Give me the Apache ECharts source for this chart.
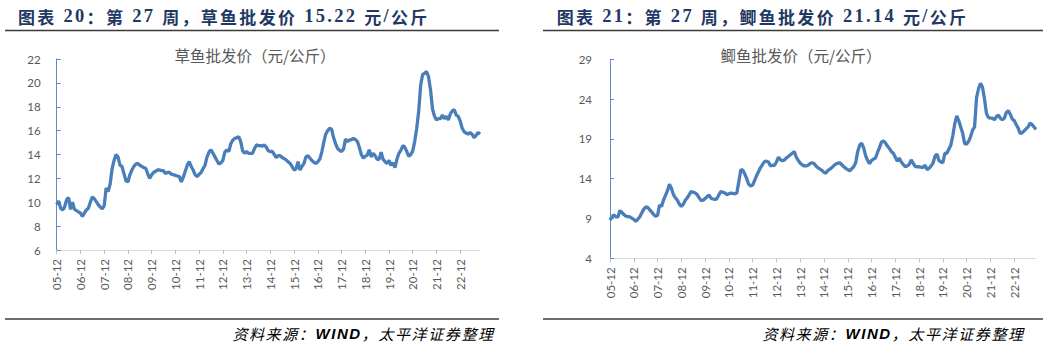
<!DOCTYPE html>
<html><head><meta charset="utf-8">
<script src="https://cdn.jsdelivr.net/npm/echarts@6/dist/echarts.min.js"></script>
<style>html,body{margin:0;padding:0;background:#fff}#c{width:1049px;height:356px}</style>
</head><body><div id="c"></div>
<script>
// ---- data (monthly readings, first point = 2005-12) ----
const tickLabels = ['05-12','06-12','07-12','08-12','09-12','10-12','11-12','12-12','13-12','14-12','15-12','16-12','17-12','18-12','19-12','20-12','21-12','22-12'];
const grassCarp = [
9.8,10.1,9.5,9.35,9.6,10.2,10.4,9.4,10.0,9.4,9.3,9.2,
9.1,8.8,9.1,9.35,9.5,10.0,10.45,10.3,10.05,9.8,9.6,9.45,
9.7,11.2,10.9,11.5,12.8,13.5,14.0,13.8,13.1,13.0,12.4,11.8,
11.7,12.3,12.7,13.0,13.2,13.25,13.1,13.0,12.9,12.85,12.4,12.0,
12.3,12.5,12.6,12.7,12.7,12.65,12.65,12.4,12.5,12.5,12.35,12.3,
12.25,12.2,12.15,11.7,12.1,12.6,13.1,13.4,13.0,12.7,12.3,12.15,
12.35,12.5,12.8,13.1,13.8,14.2,14.4,14.1,13.8,13.5,13.2,13.3,
13.5,14.2,14.4,14.25,14.9,15.2,15.35,15.4,15.5,15.1,14.3,14.1,
14.25,14.1,14.1,14.1,14.5,14.8,14.75,14.75,14.7,14.8,14.6,14.3,
14.25,14.25,14.0,13.75,13.9,13.9,13.75,13.65,13.55,13.4,13.25,13.0,
12.7,12.8,13.4,12.7,13.0,13.25,13.8,13.9,13.7,13.5,13.35,13.25,
13.4,13.6,14.2,15.0,15.7,16.0,16.2,16.1,15.4,14.9,14.5,14.35,
14.25,14.45,15.3,15.1,15.2,15.25,15.35,15.25,15.1,14.6,14.0,13.7,
13.85,13.95,14.4,13.8,14.1,13.9,13.6,13.6,14.2,13.6,13.4,13.25,
13.5,13.1,13.3,12.9,13.6,14.1,14.35,14.75,14.6,14.25,13.85,14.0,
14.3,15.1,16.2,17.6,19.8,20.7,20.8,20.95,20.5,19.4,17.8,17.2,
16.9,17.0,17.0,17.3,17.0,17.2,16.9,17.4,17.65,17.75,17.3,17.2,
16.8,16.2,15.9,15.8,15.7,15.85,15.7,15.4,15.6,15.85,15.7];
const crucianCarp = [
8.8,9.2,9.45,9.2,9.2,10.0,9.75,9.5,9.3,9.25,9.2,9.05,
8.9,8.65,8.9,9.2,9.7,10.15,10.45,10.4,10.1,9.85,9.5,9.3,
9.4,10.7,10.5,11.3,11.9,12.5,13.3,12.8,12.0,11.6,11.3,10.8,
10.5,10.8,11.3,11.6,12.0,12.4,12.3,12.2,12.0,11.6,11.25,11.3,
11.5,11.75,11.95,11.55,11.45,11.4,11.5,12.0,12.4,12.3,12.2,12.0,
12.1,12.2,12.15,12.1,12.2,13.6,15.1,15.1,14.6,14.0,13.3,13.1,
13.2,13.8,14.4,14.9,15.4,15.8,16.15,16.2,16.1,15.6,15.7,15.65,
16.1,16.7,16.4,16.25,16.35,16.6,16.8,17.0,17.2,17.4,16.7,16.3,
15.95,15.75,15.6,15.6,15.7,15.9,16.0,15.9,15.6,15.35,15.2,15.05,
14.8,14.7,15.05,15.2,15.4,15.65,15.85,15.95,16.0,15.75,15.5,15.3,
15.15,15.0,15.25,15.5,16.0,17.4,18.2,18.45,17.9,16.9,16.3,15.9,
16.3,16.45,16.6,17.3,17.9,18.6,18.75,18.5,18.1,17.8,17.4,17.2,
16.7,16.2,16.6,16.1,15.8,15.5,15.6,15.8,16.35,15.95,15.55,15.5,
15.5,15.45,15.4,15.7,15.15,15.3,15.6,15.95,16.8,17.1,16.3,16.1,
16.0,17.2,17.2,17.7,18.2,19.4,20.9,21.9,21.3,20.5,19.7,18.4,
18.35,18.7,19.3,20.1,20.5,24.2,25.3,26.0,25.5,24.0,22.2,21.7,
21.6,21.6,21.4,21.8,22.0,21.6,21.4,21.6,22.3,22.55,22.1,21.5,
21.3,20.8,20.35,19.7,19.75,20.0,20.25,20.5,21.0,20.8,20.5,20.2];
const titleLeft = '图表 20：第 27 周，草鱼批发价 15.22 元/公斤';
const titleRight = '图表 21：第 27 周，鲫鱼批发价 21.14 元/公斤';
const subLeft = '草鱼批发价（元/公斤）';
const subRight = '鲫鱼批发价（元/公斤）';
const sourceText = '资料来源：WIND，太平洋证券整理';

// ---- helpers ----
function monthCats(n){ const a=[]; let y=2005,m=12; for(let i=0;i<n;i++){ a.push(y+'-'+String(m).padStart(2,'0')); m++; if(m>12){m=1;y++;} } return a; }
const measureCtx = document.createElement('canvas').getContext('2d');
function spaced(str, spacing, cjk, latin){
  let text=''; const rich={};
  [...str].forEach((ch,i)=>{
    const st = /[\x00-\x7F]/.test(ch) ? latin : cjk;
    measureCtx.font = (st.fontStyle||'normal')+' '+(st.fontWeight||'normal')+' '+st.fontSize+'px '+st.fontFamily;
    const w = measureCtx.measureText(ch).width + spacing;
    rich['k'+i] = Object.assign({}, st, {width:w});
    text += '{k'+i+'|'+ch+'}';
  });
  return {text, rich};
}
const titleCjk = {fontFamily:"'Noto Sans CJK SC'", fontSize:17, fontWeight:'bold', fill:'#1F3864', color:'#1F3864'};
const titleLat = {fontFamily:"'Liberation Serif'", fontSize:18.5, fontWeight:'bold', fill:'#1F3864', color:'#1F3864'};
const srcCjk = {fontFamily:"'Noto Sans CJK SC'", fontSize:15, fontStyle:'italic', color:'#000'};
const srcLat = {fontFamily:"'Liberation Sans'", fontSize:15, fontStyle:'italic', fontWeight:'bold', color:'#000'};

function titleEl(str, x){ const s = spaced(str, 2.3, titleCjk, titleLat);
  return {type:'text', left:null, x:x, y:16, style:{text:s.text, rich:s.rich, verticalAlign:'middle', align:'left'}}; }
function srcEl(x){ const s = spaced(sourceText, 1.6, srcCjk, srcLat);
  return {type:'text', x:x, y:333, style:{text:s.text, rich:s.rich, verticalAlign:'middle', align:'right'}}; }
function hline(x1,x2,y){ return {type:'line', shape:{x1:x1,y1:y,x2:x2,y2:y}, style:{stroke:'#3a3a3a', lineWidth:1.6}}; }
function subEl(str, cx){ return {type:'text', x:cx, y:55, style:{text:str, fontFamily:"'Noto Sans CJK SC'", fontSize:15.5, fill:'#595959', align:'center', verticalAlign:'middle'}}; }

const labelFont = {color:'#595959', fontFamily:'Lato', fontSize:11.5};
function xAxisCfg(gi, n){
  return {type:'category', gridIndex:gi, data:monthCats(n), boundaryGap:false,
    axisLine:{lineStyle:{color:'#D9D9D9', width:1}},
    axisTick:{show:true, length:4, interval:(i)=>i%12===0, lineStyle:{color:'#BFBFBF'}},
    axisLabel:Object.assign({rotate:90, margin:9, interval:(i)=>i%12===0, formatter:(v,i)=>tickLabels[i/12]||''}, labelFont),
    splitLine:{show:false}};
}
function yAxisCfg(gi, min, max, step, margin){
  return {type:'value', gridIndex:gi, min:min, max:max, interval:step,
    axisLine:{show:true, lineStyle:{color:'#5B8BC9', width:1}},
    axisTick:{show:true, inside:true, length:4, lineStyle:{color:'#5B8BC9'}},
    axisLabel:Object.assign({margin:margin}, labelFont),
    splitLine:{show:false}};
}
const lineStyle = {color:'#4A7EBB', width:3.3};

const chart = echarts.init(document.getElementById('c'), null, {renderer:'svg'});
chart.setOption({
  animation:false,
  grid:[{left:56.7, right:569, top:59, bottom:106},{left:610, right:13, top:59.3, bottom:97.7}],
  xAxis:[xAxisCfg(0, grassCarp.length), xAxisCfg(1, crucianCarp.length)],
  yAxis:[yAxisCfg(0, 6, 22, 2, 16), yAxisCfg(1, 4, 29, 5, 18)],
  series:[
    {type:'line', xAxisIndex:0, yAxisIndex:0, data:grassCarp, showSymbol:false, symbol:'none', lineStyle:lineStyle, itemStyle:{color:'#4A7EBB'}},
    {type:'line', xAxisIndex:1, yAxisIndex:1, data:crucianCarp, showSymbol:false, symbol:'none', lineStyle:lineStyle, itemStyle:{color:'#4A7EBB'}}
  ],
  graphic:[
    titleEl(titleLeft, 18), titleEl(titleRight, 556.7),
    hline(5,499,30.5), hline(543,1043,30.5),
    subEl(subLeft, 255), subEl(subRight, 801),
    hline(5,499,319), hline(543,1043,319),
    srcEl(493), srcEl(1023)
  ]
});
</script></body></html>
